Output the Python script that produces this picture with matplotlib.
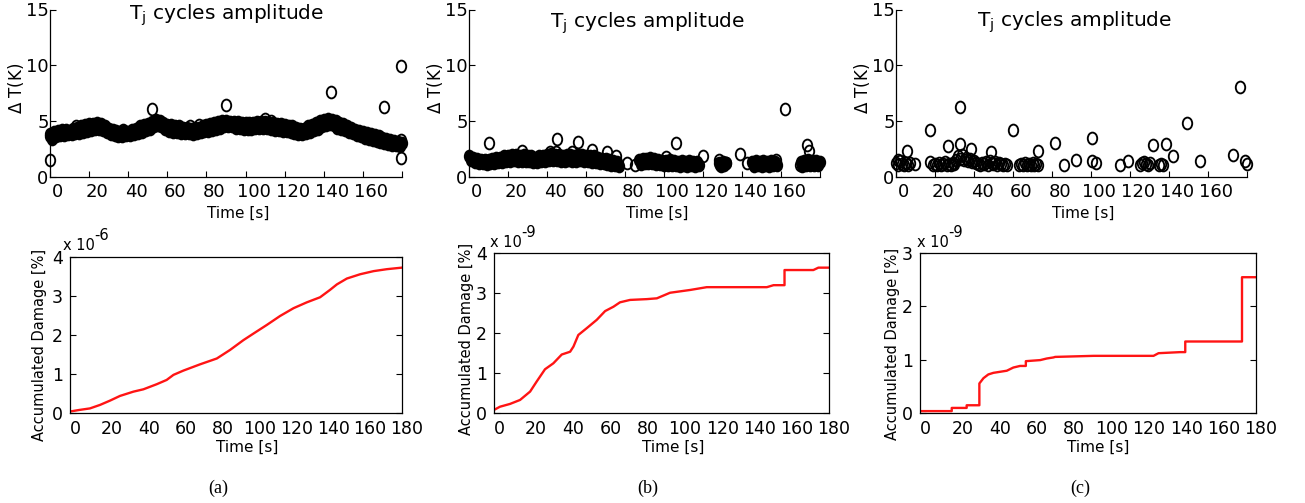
import numpy as np
import matplotlib
matplotlib.use('Agg')
import matplotlib.pyplot as plt
from matplotlib.path import Path
from matplotlib.transforms import ScaledTranslation

# ---------------- data ----------------
# (a) top: one cycle per second, band of amplitudes + scattered outliers
a_band_t0 = 0
a_band_dT = [3.8, 3.4, 4.0, 3.6, 4.1, 3.7, 4.2, 3.7, 4.2, 3.8,
             4.1, 3.8, 4.3, 3.9, 4.4, 3.9, 4.5, 4.0, 4.6, 4.1,
             4.7, 4.2, 4.7, 4.3, 4.8, 4.3, 4.7, 4.2, 4.5, 4.0,
             4.3, 3.8, 4.2, 3.7, 4.1, 3.6, 4.0, 3.6, 4.1, 3.7,
             4.0, 3.7, 4.2, 3.8, 4.3, 3.9, 4.5, 4.0, 4.6, 4.2,
             4.7, 4.3, 4.9, 4.5, 5.1, 4.6, 5.0, 4.5, 4.8, 4.3,
             4.6, 4.1, 4.6, 4.0, 4.5, 4.0, 4.5, 3.9, 4.4, 3.9,
             4.4, 3.9, 4.3, 3.8, 4.4, 3.9, 4.4, 4.0, 4.5, 4.1,
             4.6, 4.1, 4.7, 4.2, 4.8, 4.3, 4.9, 4.4, 5.0, 4.5,
             5.0, 4.5, 4.9, 4.5, 4.9, 4.4, 4.9, 4.4, 4.8, 4.3,
             4.8, 4.3, 4.8, 4.3, 4.8, 4.4, 4.9, 4.4, 4.9, 4.4,
             4.9, 4.4, 4.8, 4.3, 4.8, 4.2, 4.7, 4.2, 4.7, 4.1,
             4.6, 4.1, 4.5, 4.0, 4.5, 3.9, 4.4, 3.8, 4.3, 3.8,
             4.3, 3.9, 4.5, 4.0, 4.6, 4.2, 4.8, 4.3, 5.0, 4.5,
             5.1, 4.6, 5.2, 4.7, 5.1, 4.6, 5.0, 4.4, 4.8, 4.3,
             4.7, 4.2, 4.5, 4.0, 4.4, 3.9, 4.2, 3.7, 4.1, 3.6,
             4.0, 3.5, 3.9, 3.4, 3.8, 3.3, 3.7, 3.2, 3.6, 3.1,
             3.5, 3.0, 3.4, 2.9, 3.3, 2.8, 3.2, 2.8, 3.1, 2.7,
             3.0]
a_out_t = [0, 0, 13.3, 37.5, 52, 71.5, 76, 80, 90, 110, 113, 143.6, 170.7, 179.5, 179.5, 179.5]
a_out_dT = [1.45, 3.6, 4.5, 4.2, 6.1, 4.5, 4.6, 4.5, 6.4, 5.2, 5.0, 7.6, 6.2, 9.9, 1.7, 3.3]

# (b) top: runs of consecutive cycles (start time, amplitudes) + outliers
b_run1_t0 = 0
b_run1_dT = [1.8, 1.5, 1.7, 1.3, 1.6, 1.2, 1.5, 1.2, 1.5, 1.1,
             1.5, 1.2, 1.6, 1.2, 1.7, 1.3, 1.7, 1.3, 1.8, 1.4,
             1.8, 1.4, 1.9, 1.5, 1.9, 1.4, 1.8, 1.4, 1.9, 1.4,
             1.8, 1.4, 1.8, 1.3, 1.7, 1.3, 1.8, 1.4, 1.8, 1.4,
             1.9, 1.5, 2.0, 1.5, 1.9, 1.5, 1.9, 1.4, 1.8, 1.4,
             1.9, 1.5, 1.9, 1.4, 1.8, 1.4, 1.9, 1.5, 1.9, 1.4,
             1.8, 1.4, 1.8, 1.3, 1.8, 1.3, 1.7, 1.2, 1.6, 1.2,
             1.6, 1.1, 1.5, 1.0, 1.4, 1.0, 1.3, 0.9]
b_run2_t0 = 87
b_run2_dT = [1.5, 1.1, 1.6, 1.2, 1.6, 1.2, 1.7, 1.2, 1.6, 1.1,
             1.5, 1.1, 1.4, 1.0, 1.4, 1.0, 1.5, 1.0, 1.4, 1.0,
             1.3, 0.9, 1.4, 1.0, 1.3, 0.9, 1.4, 1.0, 1.3, 0.9,
             1.3, 1.0]
b_run3_t0 = 128
b_run3_dT = [1.2, 0.9, 1.3, 1.0, 1.2]
b_run4_t0 = 145
b_run4_dT = [1.3, 0.9, 1.4, 1.0, 1.3, 0.9, 1.4, 1.0, 1.3, 0.9, 1.4, 1.0, 1.3, 1.0]
b_run5_t0 = 170
b_run5_dT = [1.3, 0.9, 1.4, 1.0, 1.5, 1.0, 1.4, 1.0, 1.4, 1.0, 1.3]
b_out_t = [10.3, 27, 41.5, 44.5, 45, 52.6, 56, 63, 70.6, 75.2, 81, 85, 101, 106, 109,
           120, 128.2, 128.7, 132, 139, 142.4, 157.5, 162, 169.7, 173.3, 174.5]
b_out_dT = [2.97, 2.3, 2.17, 2.2, 3.4, 2.2, 3.1, 2.4, 2.2, 1.8, 1.2, 1.0, 1.78, 3.03, 1.2,
            1.84, 1.5, 1.0, 1.2, 1.98, 1.2, 1.5, 6.1, 1.0, 2.8, 2.3]

# (c) top
c_run1_t0 = 0
c_run1_dT = [1.2, 1.0, 1.4, 1.1, 1.0, 1.2, 1.0]
c_run2_t0 = 19
c_run2_dT = [1.0, 1.1, 1.0, 1.2, 1.0, 1.1, 1.3, 1.0, 1.1, 1.0, 1.2, 1.1]
c_run3_t0 = 31
c_run3_dT = [1.5, 1.8, 1.6, 1.9, 1.5, 1.7, 1.4, 1.6, 1.3, 1.4, 1.2, 1.1]
c_run4_t0 = 43
c_run4_dT = [1.0, 1.2, 1.1, 1.3, 1.0, 1.4, 1.2, 1.1, 1.3, 1.0, 1.2, 1.1, 1.0, 1.1, 1.0]
c_run5_t0 = 63
c_run5_dT = [1.0, 1.1, 1.0, 1.2, 1.0, 1.1, 1.0, 1.2, 1.0, 1.1, 1.0]
c_run6_t0 = 125
c_run6_dT = [1.0, 1.2, 1.3, 1.1, 1.0, 1.2]
c_run7_t0 = 135
c_run7_dT = [1.0, 1.1, 1.0]
c_out_t = [1, 5.4, 7.2, 9.7, 17.4, 17.4, 26.8, 32.8, 32.8, 38.5, 48.7, 59.8, 73, 81.5, 86.3,
           92.3, 100.7, 100.7, 102.6, 114.9, 119.2, 131.6, 138.5, 142.3, 149, 155.9, 173,
           176.4, 179, 179.8]
c_out_dT = [1.5, 2.25, 1.2, 1.15, 4.15, 1.3, 2.7, 6.2, 2.95, 2.45, 2.2, 4.2, 2.25, 3.0, 1.0,
            1.5, 3.45, 1.4, 1.25, 1.05, 1.35, 2.8, 2.9, 1.85, 4.85, 1.4, 1.95,
            8.05, 1.4, 1.15]

# bottom: accumulated damage (a in 1e-6 %, b and c in 1e-9 %)
dmg_a_t = [0, 5, 10.8, 16.3, 21.7, 27.1, 34.4, 39.8, 47, 52.4, 56.1, 61.5, 70.5, 79.6, 86.8,
           94, 99.5, 106.7, 113.9, 121.2, 128.4, 135.6, 141, 144.7, 150.1, 157.3, 164.6,
           171.8, 180]
dmg_a = [0.03, 0.07, 0.11, 0.2, 0.31, 0.43, 0.54, 0.6, 0.73, 0.84, 0.97, 1.08, 1.24, 1.39,
         1.61, 1.86, 2.03, 2.25, 2.48, 2.68, 2.83, 2.96, 3.15, 3.29, 3.44, 3.55, 3.63,
         3.68, 3.72]
dmg_b_t = [0, 3.2, 8.6, 14, 19.4, 22.9, 27.4, 31.9, 36.4, 40.9, 42.7, 45.3, 49.8, 55.2, 59.7,
           64.2, 67.7, 73.1, 82.1, 87.5, 94.6, 105.4, 114.3, 146.6, 150.2, 156.1, 156.1,
           171.6, 174.3, 180]
dmg_b = [0.07, 0.15, 0.22, 0.32, 0.53, 0.78, 1.09, 1.24, 1.46, 1.53, 1.66, 1.95, 2.12, 2.33,
         2.55, 2.66, 2.77, 2.83, 2.85, 2.87, 3.01, 3.08, 3.15, 3.15, 3.2, 3.2, 3.58, 3.58,
         3.64, 3.64]
dmg_c_t = [0, 17, 17, 25, 25, 31.8, 31.8, 34, 36.6, 39.3, 46.5, 50, 53.6, 56.7, 56.7, 64.4,
           67.9, 71.5, 72.4, 93, 125.1, 127.8, 139.4, 142.1, 142.1, 172.5, 172.5, 180]
dmg_c = [0.03, 0.03, 0.09, 0.09, 0.14, 0.14, 0.55, 0.65, 0.72, 0.75, 0.79, 0.85, 0.88, 0.88,
         0.97, 0.99, 1.02, 1.04, 1.05, 1.07, 1.07, 1.12, 1.14, 1.14, 1.34, 1.34, 2.55, 2.55]

# ---------------- figure ----------------
W, H = 1305, 503
fig = plt.figure(figsize=(W/100, H/100), dpi=100)
# x tick labels sit a few pixels right of their ticks in the original
shift_top = ScaledTranslation(8/100, 0, fig.dpi_scale_trans)
shift_bot = ScaledTranslation(5/100, 0, fig.dpi_scale_trans)

# the circles in the original come out taller than wide
circ = Path.unit_circle()
oval = Path(circ.vertices * [0.8, 1.0], circ.codes)


def px_axes(left, top, right, bottom):
	'''axes from pixel box (y measured from top)'''
	return fig.add_axes([left/W, 1-bottom/H, (right-left)/W, (bottom-top)/H])


def px_text(x, y, s, **kw):
	fig.text(x/W, 1-y/H, s, **kw)


def runs_to_xy(runs):
	t, v = [], []
	for t0, vals in runs:
		t += list(t0 + np.arange(len(vals)))
		v += list(vals)
	return t, v


def amplitude_panel(box, runs, out_t, out_dT, dense=True):
	ax = px_axes(*box)
	mk = dict(ls='none', marker=oval, mec='k', ms=8.5, mew=1.35, clip_on=False, zorder=3)
	# consecutive cycles overlap so much that they read as a solid band
	t, v = runs_to_xy(runs)
	ax.plot(t, v, mfc='k' if dense else 'none', **mk)
	ax.plot(out_t, out_dT, mfc='none', **mk)
	ax.set_xlim(0, 180)
	ax.set_ylim(0, 15)
	ax.spines['top'].set_visible(False)
	ax.spines['right'].set_visible(False)
	for s in ['left', 'bottom']:
		ax.spines[s].set_linewidth(0.9)
	ax.set_xticks(range(0, 181, 20))
	ax.set_xticklabels([str(k) for k in range(0, 161, 20)] + [''])
	ax.set_yticks([0, 5, 10, 15])
	ax.tick_params(direction='in', length=4, width=0.8, labelsize=13)
	ax.tick_params(axis='x', pad=5)
	ax.tick_params(axis='y', pad=1)
	for lab in ax.get_xticklabels():
		lab.set_transform(lab.get_transform() + shift_top)
	return ax


def damage_panel(box, t, d, ymax):
	ax = px_axes(*box)
	ax.plot(t, d, '-', color='#ff1414', lw=1.7)
	ax.set_xlim(0, 180)
	ax.set_ylim(0, ymax)
	ax.set_xticks(range(0, 181, 20))
	ax.set_yticks(range(0, ymax+1))
	for s in ax.spines.values():
		s.set_linewidth(0.9)
	ax.tick_params(axis='y', direction='in', length=4, width=0.8, right=True, labelsize=12.5, pad=5)
	ax.tick_params(axis='x', direction='in', length=0, labelsize=12.5, pad=5)
	for lab in ax.get_xticklabels():
		lab.set_transform(lab.get_transform() + shift_bot)
	return ax


# top row
amplitude_panel((50, 9.5, 402, 176.5), [(a_band_t0, a_band_dT)], a_out_t, a_out_dT)
amplitude_panel((469, 9.5, 820, 176.5),
	[(b_run1_t0, b_run1_dT), (b_run2_t0, b_run2_dT), (b_run3_t0, b_run3_dT),
	 (b_run4_t0, b_run4_dT), (b_run5_t0, b_run5_dT)], b_out_t, b_out_dT)
amplitude_panel((896, 9.5, 1247, 176.5),
	[(c_run1_t0, c_run1_dT), (c_run2_t0, c_run2_dT), (c_run3_t0, c_run3_dT),
	 (c_run4_t0, c_run4_dT), (c_run5_t0, c_run5_dT), (c_run6_t0, c_run6_dT),
	 (c_run7_t0, c_run7_dT)], c_out_t, c_out_dT, dense=False)

# bottom row
damage_panel((70, 256.7, 402, 412.7), dmg_a_t, dmg_a, 4)
damage_panel((494, 253.3, 829, 412.7), dmg_b_t, dmg_b, 4)
damage_panel((920, 253.3, 1256, 412.7), dmg_c_t, dmg_c, 3)

# texts
title = r'T$_\mathregular{j}$ cycles amplitude'
for x, yb in [(226, 20), (647, 28), (1074, 27)]:
	px_text(x, yb, title, fontsize=14.5, ha='center', va='baseline')
for x in [16, 435, 862]:
	px_text(x, 88, r'$\Delta$ T(K)', fontsize=12, rotation=90, ha='center', va='center')
for x in [238, 657, 1083]:
	px_text(x, 213, 'Time [s]', fontsize=11, ha='center', va='center')
for x in [247, 673, 1098]:
	px_text(x, 447, 'Time [s]', fontsize=11, ha='center', va='center')
for x, y in [(40, 345), (467, 339), (893, 344)]:
	px_text(x, y, 'Accumulated Damage [%]', fontsize=10.5, rotation=90, ha='center', va='center')
for x, y, e in [(63, 250, '-6'), (490, 247, '-9'), (917, 247, '-9')]:
	px_text(x, y, 'x 10', fontsize=10.5, ha='left', va='baseline')
	px_text(x+31, y-10, e, fontsize=10.5, ha='left', va='baseline')
for x, s in [(218, '(a)'), (648, '(b)'), (1080, '(c)')]:
	px_text(x, 488, s, fontsize=13, family='Liberation Serif', ha='center', va='center')

fig.savefig('out.png', dpi=100)
